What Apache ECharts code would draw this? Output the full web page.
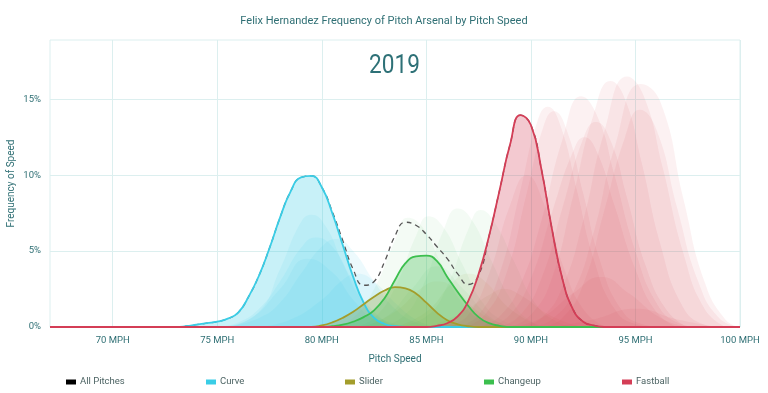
<!DOCTYPE html>
<html><head><meta charset="utf-8">
<script src="https://cdn.jsdelivr.net/npm/echarts@6/dist/echarts.min.js"></script>
<style>html,body{margin:0;padding:0;background:#fff}#c{width:768px;height:393px}</style>
</head><body><div id="c"></div>
<script>
const title = 'Felix Hernandez Frequency of Pitch Arsenal by Pitch Speed';
const yearLabel = '2019';
const xTicks = [70, 75, 80, 85, 90, 95, 100];
const yTicks = [0, 5, 10, 15];
const legendNames = ['All Pitches', 'Curve', 'Slider', 'Changeup', 'Fastball'];

// 2019 densities, [mph, percent]
const curve = [[67,0],[73,0],[73.5,0.05],[74,0.15],[74.5,0.25],[75,0.35],[75.5,0.55],[76,0.95],[76.5,2.0],[77,3.4],[77.5,5.2],[78,7.2],[78.5,8.9],[79,9.85],[79.5,9.95],[80,9.2],[80.5,7.5],[81,5.4],[81.5,3.3],[82,1.6],[82.5,0.6],[83,0.2],[83.5,0.05],[84,0],[100,0]];
const slider = [[67,0],[79.5,0],[80,0.1],[80.5,0.3],[81,0.6],[81.5,1.0],[82,1.5],[82.5,2.0],[83,2.4],[83.5,2.63],[84,2.55],[84.5,2.2],[85,1.6],[85.5,0.95],[86,0.45],[86.5,0.18],[87,0.05],[87.5,0],[100,0]];
const changeup = [[67,0],[80,0],[80.5,0.05],[81,0.15],[81.5,0.35],[82,0.65],[82.5,1.1],[83,1.9],[83.5,3.1],[84,4.2],[84.5,4.65],[85,4.7],[85.5,4.35],[86,3.3],[86.5,2.3],[87,1.4],[87.5,0.65],[88,0.25],[88.5,0.08],[89,0],[100,0]];
const fastball = [[67,0],[85,0],[85.5,0.08],[86,0.25],[86.5,0.7],[87,1.7],[87.5,3.5],[88,6.0],[88.5,9.0],[89,12.0],[89.5,13.95],[90,13.3],[90.5,10.4],[91,6.5],[91.5,3.2],[92,1.2],[92.5,0.35],[93,0.1],[93.5,0],[100,0]];
const allPitches = [[67,0],[73,0],[73.5,0.05],[74,0.15],[74.5,0.25],[75,0.35],[75.5,0.55],[76,0.95],[76.5,2.0],[77,3.4],[77.5,5.2],[78,7.2],[78.5,8.9],[79,9.85],[79.5,9.95],[80,9.2],[80.5,7.6],[81,5.7],[81.5,3.8],[82,2.75],[82.5,3.0],[83,4.3],[83.5,6.0],[84,6.9],[84.5,6.7],[85,6.1],[85.5,5.3],[86,4.5],[86.5,3.5],[87,2.8],[87.5,3.4],[88,6.0],[88.5,9.0],[89,12.0],[89.5,13.95],[90,13.3],[90.5,10.4],[91,6.5],[91.5,3.2],[92,1.2],[92.5,0.35],[93,0.1],[93.5,0],[100,0]];

// earlier seasons (faded)
const curvePast = [
  [[75,0],[76,0.3],[77,1.2],[78,3.0],[79,5.2],[79.7,5.9],[80.5,5.3],[81.5,3.0],[82.5,1.0],[83.5,0.2],[84.5,0]],
  [[75.5,0],[77,0.6],[78,1.6],[79,3.5],[80,5.3],[80.7,5.8],[81.5,5.0],[82.5,3.0],[83.5,1.2],[84.5,0.3],[85.5,0]],
  [[77,0],[78.5,0.5],[80,1.8],[81,3.1],[81.7,3.5],[82.5,3.0],[83.5,1.6],[84.5,0.5],[85.5,0]],
  [[75,0],[76.5,0.5],[78,2.5],[79.3,4.5],[80.5,3.6],[81.5,1.8],[82.5,0.5],[83.5,0]],
  [[75.5,0],[77,1.0],[78,3.8],[79,6.9],[79.5,7.4],[80.2,6.6],[81,4.2],[82,1.6],[83,0.4],[84,0]]
];
const sliderPast = [
  [[82,0],[83.5,1.0],[84.8,2.6],[85.5,3.0],[86.3,2.6],[87.5,1.0],[89,0]],
  [[83.5,0],[85,1.0],[86.3,3.0],[87,3.5],[87.8,3.0],[89,1.2],[90.5,0]],
  [[85,0],[86.5,0.8],[88,2.1],[88.7,2.5],[89.5,2.1],[91,0.7],[92.5,0]]
];
const changeupPast = [
  [[80.5,0],[81.5,0.6],[82.5,2.5],[83.5,5.7],[84.1,7.2],[84.8,6.6],[85.7,4.2],[86.7,1.6],[87.7,0.4],[88.7,0]],
  [[81.5,0],[82.5,0.6],[83.5,2.6],[84.5,6.0],[85.1,7.3],[85.8,6.6],[86.7,4.2],[87.7,1.6],[88.7,0.4],[89.7,0]],
  [[82.5,0],[83.8,0.6],[84.8,2.6],[85.8,6.3],[86.5,7.8],[87.2,7.0],[88.1,4.4],[89.1,1.7],[90,0.4],[91,0]],
  [[83.5,0],[85,0.7],[86,2.7],[87,6.4],[87.6,7.7],[88.3,6.8],[89.2,4.3],[90.2,1.6],[91.2,0.4],[92.2,0]],
  [[81.5,0],[83,0.6],[84.3,2.5],[85.5,4.0],[86.7,2.6],[88,0.7],[89,0]]
];
const fastballPast = [
  [[86.5,0],[87.5,0.8],[88.5,3.5],[89.5,9.0],[90.3,13.5],[90.8,14.5],[91.4,13.3],[92.2,9.0],[93,4.5],[94,1.2],[95,0.2],[96,0]],
  [[86.8,0],[87.8,0.8],[88.8,3.4],[89.8,8.8],[90.6,13.2],[91.1,14.2],[91.7,13.0],[92.5,8.8],[93.3,4.4],[94.3,1.2],[95.3,0.2],[96.3,0]],
  [[87.5,0],[88.5,0.7],[89.5,2.8],[90.5,7.0],[91.5,12.3],[92.4,15.2],[93.2,13.8],[94,10.0],[95,5.0],[96,1.6],[97,0.3],[98,0]],
  [[88,0],[89,0.8],[90,3.2],[91,7.5],[92,11.5],[92.55,12.5],[93.2,11.4],[94,8.0],[95,3.8],[96,1.0],[97,0]],
  [[88.5,0],[89.5,0.8],[90.5,3.2],[91.5,7.8],[92.5,12.4],[93.1,13.5],[93.8,12.3],[94.6,8.5],[95.5,4.0],[96.5,1.1],[97.5,0]],
  [[89,0],[90,0.8],[91,3.2],[92,8.5],[93,14.0],[93.8,16.2],[94.5,15.0],[95.3,10.8],[96.2,5.4],[97.2,1.5],[98.2,0.2],[99,0]],
  [[89.5,0],[90.5,0.6],[91.5,2.6],[92.5,7.0],[93.5,12.8],[94.6,16.5],[95.4,15.2],[96.3,10.5],[97.3,4.8],[98.3,1.2],[99.3,0]],
  [[90,0],[91,0.5],[92,2.2],[93,6.2],[94,11.8],[95.25,16.0],[96.2,14.8],[97.3,8.4],[98.3,3.0],[99.3,0.5],[100,0]],
  [[90.5,0],[91.5,0.6],[92.5,2.8],[93.5,7.6],[94.5,12.5],[95.2,14.3],[96,13.0],[97,7.8],[98,3.0],[99,0.6],[100,0]],
  [[89,0],[90.5,0.6],[92,2.2],[93.35,3.3],[94.7,2.2],[96.2,0.6],[97.5,0]],
  [[91,0],[93,0.5],[95,1.2],[97,0.5],[99,0]],
  [[86,0],[87,0.8],[88,3.5],[89,8.0],[89.8,10.0],[90.6,8.2],[91.6,3.8],[92.6,1.0],[93.6,0]]
];

const COL = {curve:'#3acde6', slider:'#a39d2b', changeup:'#3cbf4e', fastball:'#d43d56'};
const FONT = 'Roboto, sans-serif';
const TEAL = '#2f6f74';

function faded(data, color, op){
  return {type:'line', data, smooth:0.5, showSymbol:false, silent:true, z:1,
    lineStyle:{width:0, color}, itemStyle:{color}, areaStyle:{color, opacity:op}};
}
function main(name, data, color){
  return {name, type:'line', data, smooth:0.5, showSymbol:false, z:4,
    lineStyle:{width:1.8, color}, itemStyle:{color}, areaStyle:{color, opacity:0.28}};
}

const series = [];
curvePast.forEach(d => series.push(faded(d, COL.curve, 0.09)));
sliderPast.forEach(d => series.push(faded(d, COL.slider, 0.07)));
changeupPast.forEach(d => series.push(faded(d, COL.changeup, 0.06)));
fastballPast.forEach(d => series.push(faded(d, COL.fastball, 0.075)));
series.push({name:'All Pitches', type:'line', data:allPitches, smooth:0.5, showSymbol:false, z:3,
  lineStyle:{width:1.3, color:'#555', type:[5,4]}, itemStyle:{color:'#000'}});
series.push(main('Curve', curve, COL.curve));
series.push(main('Slider', slider, COL.slider));
series.push(main('Changeup', changeup, COL.changeup));
series.push(main('Fastball', fastball, COL.fastball));

const legendX = [66, 206, 345, 484, 622];
const legends = legendNames.map((n, i) => ({
  data:[n], left:legendX[i], top:377, padding:0, icon:'rect', itemWidth:10, itemHeight:5, itemGap:4,
  selectedMode:false, textStyle:{fontFamily:FONT, fontSize:9.5, color:'#4d6464', padding:[0,0,0,-1]}
}));

const chart = echarts.init(document.getElementById('c'), null, {renderer:'canvas'});
chart.setOption({
  animation:false,
  backgroundColor:'#fff',
  title:{text:title, left:'center', top:11, textStyle:{fontFamily:FONT, fontSize:11, fontWeight:'normal', color:TEAL}},
  graphic:[{type:'text', left:369, top:53, scaleX:0.87, style:{text:yearLabel, font:'26px Roboto', fill:'#2e7177'}}],
  legend:legends,
  grid:{left:50, right:28, top:40, bottom:66, outerBoundsMode:'none', containLabel:false, show:true, borderColor:'#dcefef', borderWidth:1},
  xAxis:{type:'value', min:67, max:100,
    name:'Pitch Speed', nameLocation:'middle', nameGap:27, nameMoveOverlap:false,
    nameTextStyle:{fontFamily:FONT, fontSize:10, color:TEAL},
    axisLine:{show:false}, axisTick:{show:false, customValues:xTicks},
    axisLabel:{customValues:xTicks, formatter:'{value} MPH', fontFamily:FONT, fontSize:9.5, color:TEAL, margin:9},
    splitLine:{show:true, lineStyle:{color:'#dcefef', width:1}}},
  yAxis:{type:'value', min:0, max:18.9,
    name:'Frequency of Speed', nameLocation:'middle', nameGap:34, nameMoveOverlap:false,
    nameTextStyle:{fontFamily:FONT, fontSize:10, color:TEAL},
    axisLine:{show:false}, axisTick:{show:false, customValues:yTicks},
    axisLabel:{customValues:yTicks, formatter:'{value}%', fontFamily:FONT, fontSize:9.5, color:TEAL, margin:9},
    splitLine:{show:true, lineStyle:{color:'#dcefef', width:1}}},
  series
});
</script></body></html>
